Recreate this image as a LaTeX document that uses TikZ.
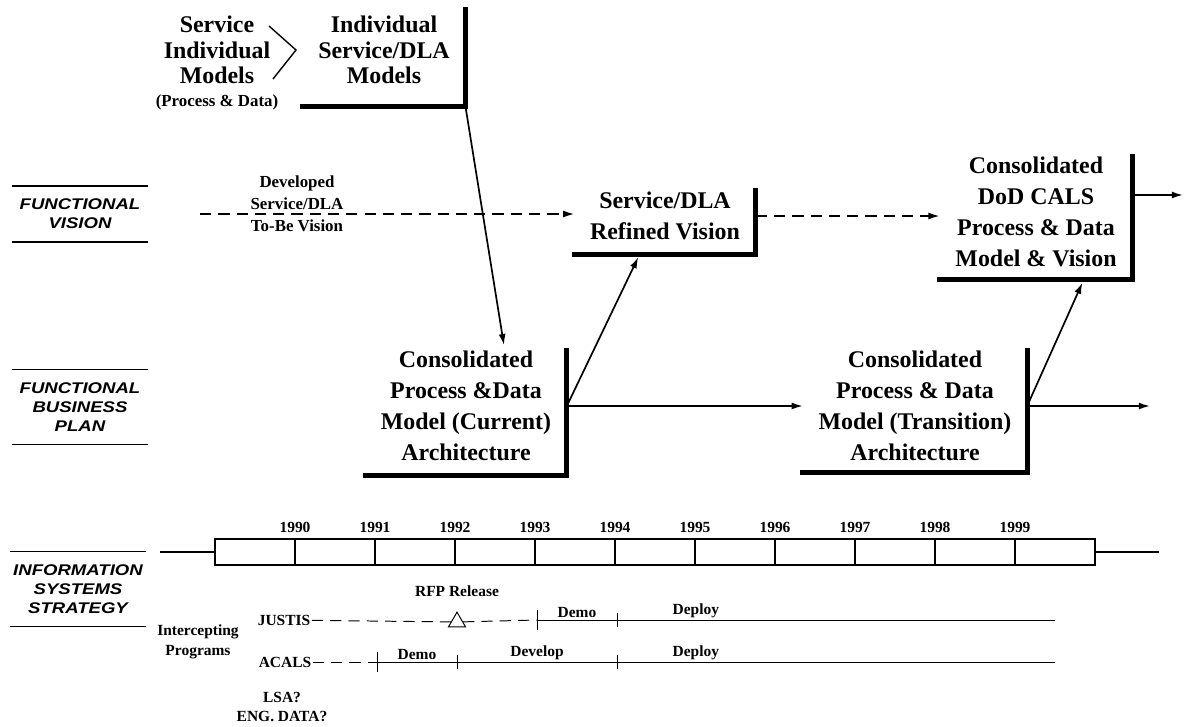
\documentclass[tikz,border=0pt]{standalone}
\usepackage{fontspec}
\setmainfont{Liberation Serif}
\newfontfamily\labfont[FakeStretch=1.2]{Liberation Sans}
\usepackage{tikz}
\usetikzlibrary{positioning,arrows.meta,shapes.geometric}

\begin{document}
\begin{tikzpicture}[x=0.025cm, y=-0.025cm,
  model/.style={align=center, inner xsep=11pt, inner ysep=0pt, font=\fontsize{17}{22}\selectfont\bfseries},
  topmodel/.style={model, font=\fontsize{17}{18}\selectfont\bfseries},
  note/.style={align=center, inner sep=1pt, font=\fontsize{12}{15.6}\selectfont\bfseries},
  tiny/.style={align=center, inner sep=1pt, font=\fontsize{11}{14}\selectfont\bfseries},
  rowlabel/.style={align=center, minimum width=3.375cm, inner xsep=0pt, inner ysep=9pt, font=\fontsize{11}{13.5}\selectfont\labfont\bfseries\itshape},
  bar/.style={line width=3.5pt, line cap=rect, line join=miter},
  arr/.style={line width=1.2pt, -{Latex[length=8pt,width=5pt]}},
  dasharr/.style={arr, dash pattern=on 8pt off 5pt},
  rule/.style={line width=0.9pt},
  prog/.style={line width=0.7pt},
  progdash/.style={prog, dash pattern=on 8pt off 5pt}]
\useasboundingbox (0,0) rectangle (1184,726);

\node[topmodel] (svc) at (217,50) {Service\\Individual\\Models};
\node[note] (pd) at (217,102) {(Process \& Data)};
\coordinate (chev) at (296,50);
\draw[line width=1pt] (chev) ++(-27,-24) -- (chev) -- ++(-23,29);

\node[topmodel] (indiv) at (384,50) {Individual\\Service/DLA\\Models};
\node[model] (refined) at (665,216) {Service/DLA\\Refined Vision};
\node[model] (dod) at (1036,212) {Consolidated\\DoD CALS\\Process \& Data\\Model \& Vision};
\node[model] (cur) at (466,406) {Consolidated\\Process \&Data\\Model (Current)\\Architecture};
\node[model] (trans) at (915,406) {Consolidated\\Process \& Data\\Model (Transition)\\Architecture};
\foreach \b/\u/\d in {indiv/5/16, refined/1/10, dod/0/9, cur/0/10, trans/0/8}
  \draw[bar] ([yshift=\u pt]\b.north east) |- ([yshift=-\d pt]\b.south west);

\draw[arr] ([yshift=-16pt]indiv.south east) -- ([xshift=27pt,yshift=4pt]cur.north);
\draw[arr] (cur.east) -- ([xshift=-19pt,yshift=-12pt]refined.south);
\draw[arr] (cur.east) -- (trans.west);
\draw[arr] (trans.east) -- ([xshift=33pt,yshift=-11pt]dod.south);
\coordinate (trans-out) at (1150,406);
\draw[arr] (trans.east) -- (trans-out);
\coordinate (dod-out) at (1183,195);
\draw[arr] (dod.east |- dod-out) -- (dod-out);

\coordinate (vis-in) at (200,214);
\draw[dasharr] (vis-in) -- (vis-in -| refined.west);
\node[note] (dev) at (297,204) {Developed\\Service/DLA\\To-Be Vision};
\draw[dasharr] (refined.east) -- (refined.east -| dod.west);

\node[rowlabel] (fv) at (80,214) {FUNCTIONAL\\VISION};
\node[rowlabel] (fbp) at (80,407) {FUNCTIONAL\\BUSINESS\\PLAN};
\node[rowlabel] (iss) at (78,589) {INFORMATION\\SYSTEMS\\STRATEGY};
\foreach \g in {fv,fbp,iss}
  \draw[rule] (\g.north west) -- (\g.north east) (\g.south west) -- (\g.south east);

\draw[rule] (160,552) -- (215,552);
\draw[line width=1.1pt] (215,539) rectangle (1095,565);
\draw[rule] (1095,552) -- (1159,552);
\foreach \yr [count=\i from 0] in {1990,...,1999} {
  \draw[line width=1.1pt] (295+80*\i,539) -- (295+80*\i,565);
  \node[tiny] (y\yr) at (295+80*\i,527) {\yr};
}

\node[tiny] (icp) at (198,642) {Intercepting\\Programs};
\node[tiny] (jus) at (284,620) {JUSTIS};
\node[draw, prog, regular polygon, regular polygon sides=3, minimum size=14pt, inner sep=0pt] (rfp) at (457,622) {};
\node[tiny, above=9pt of rfp] (rfpl) {RFP Release};
\coordinate (j93) at (537,620);
\coordinate (j94) at (617,620);
\coordinate (jend) at (1055,620);
\draw[progdash] (jus) -- (rfp);
\draw[progdash] (rfp) -- (j93);
\draw[prog] (j93) -- node[tiny, above] (jdemo) {Demo} (j94) -- node[tiny, above, pos=0.18] (jdep) {Deploy} (jend);

\node[tiny] (aca) at (285,662) {ACALS};
\coordinate (a91) at (377,662);
\coordinate (a92) at (457,662);
\coordinate (a94) at (617,662);
\coordinate (aend) at (1055,662);
\draw[progdash] (aca) -- (a91);
\draw[prog] (a91) -- node[tiny, above] (ademo) {Demo} (a92) -- node[tiny, above] (adev) {Develop} (a94) -- node[tiny, above, pos=0.18] (adep) {Deploy} (aend);
\foreach \t/\h in {j93/10, j94/7, a91/10, a92/7, a94/7}
  \draw[prog] (\t) ++(0,-\h) -- ++(0,2*\h);

\node[tiny] (lsa) at (282,707) {LSA?\\ENG. DATA?};
\end{tikzpicture}
\end{document}
